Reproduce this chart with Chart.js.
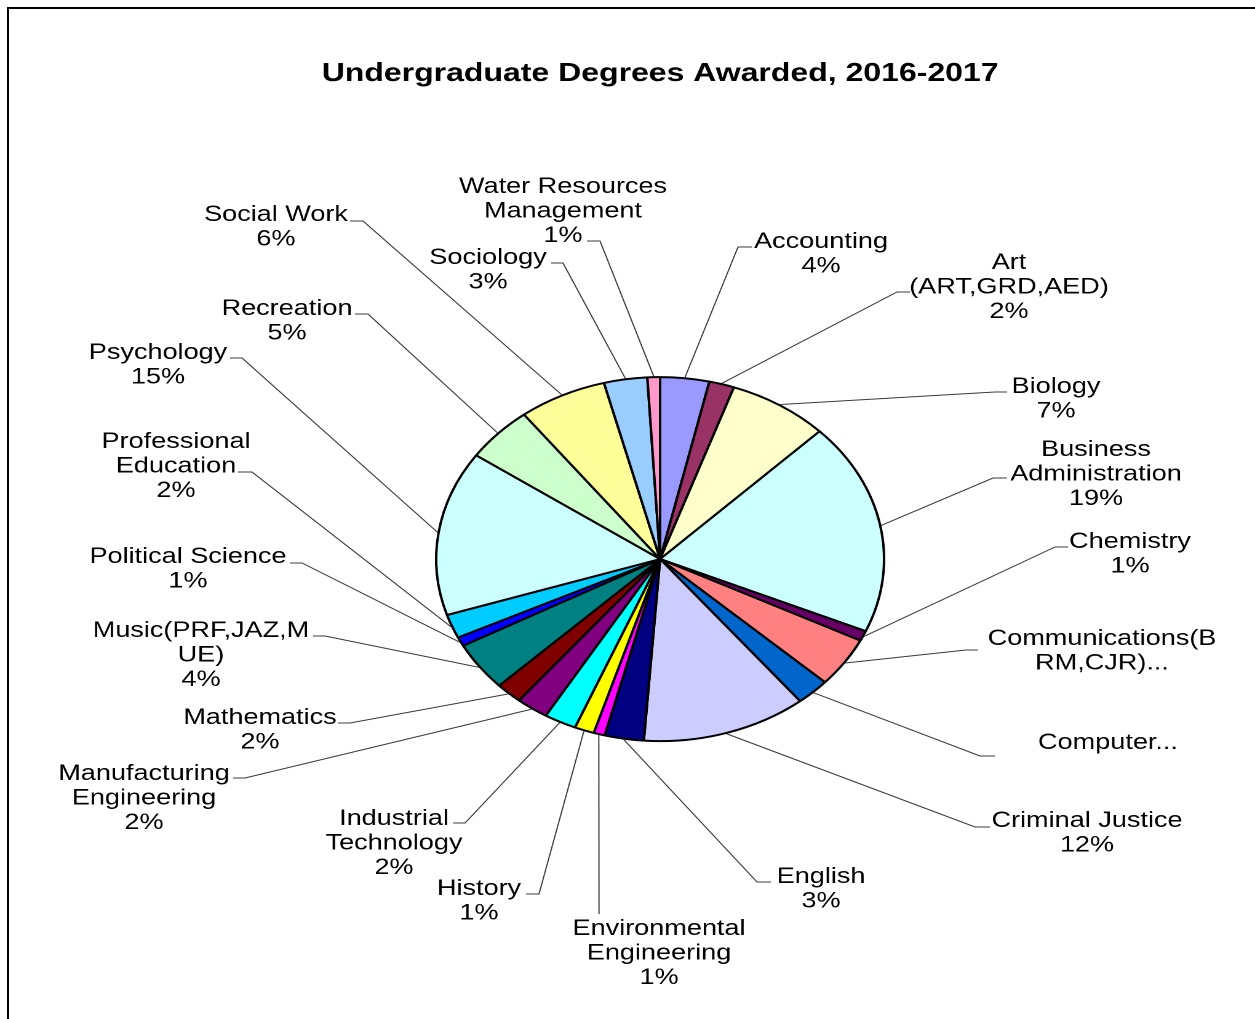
<!DOCTYPE html>
<html><head><meta charset="utf-8">
<script src="https://cdn.jsdelivr.net/npm/chart.js@4.4.1/dist/chart.umd.min.js"></script>
<style>
html,body{margin:0;padding:0;background:#fff;overflow:hidden;width:1255px;height:1019px;}
#stage{position:absolute;left:0;top:0;width:1020px;height:1019px;transform:scaleX(1.2304);transform-origin:0 0;}
#frame{position:absolute;left:7px;top:7px;width:1300px;height:1100px;border-left:2px solid #000;border-top:2px solid #000;pointer-events:none;}
</style></head><body>
<div id="stage"><canvas id="c" width="1020" height="1019"></canvas></div>
<div id="frame"></div>
<script>
// Categories (a "\n" marks where the reference wraps the label)
const categories = [
  'Accounting', 'Art\n(ART,GRD,AED)', 'Biology', 'Business\nAdministration', 'Chemistry',
  'Communications(B\nRM,CJR)...', 'Computer...', 'Criminal Justice', 'English',
  'Environmental\nEngineering', 'History', 'Industrial\nTechnology', 'Manufacturing\nEngineering',
  'Mathematics', 'Music(PRF,JAZ,M\nUE)', 'Political Science', 'Professional\nEducation',
  'Psychology', 'Recreation', 'Social Work', 'Sociology', 'Water Resources\nManagement'
];
// Degrees awarded
const degrees = [35, 18, 72, 187, 9, 44, 24, 118, 28, 8, 14, 23, 23, 19, 43, 8, 21, 145, 49, 63, 31, 9];

const sliceColors = ['#9999FF','#993366','#FFFFCC','#CCFFFF','#660066','#FF8080','#0066CC','#CCCCFF',
  '#000080','#FF00FF','#FFFF00','#00FFFF','#800080','#800000','#008080','#0000FF','#00CCFF',
  '#CCFFFF','#CCFFCC','#FFFF99','#99CCFF','#FF99CC'];

// Label placement: [text centre x, first line y, elbow x, elbow y, tick end x] (page pixels)
const labelLayout = [
  [821, 240, 738, 247, 752], [1009, 261, 897, 292, 910], [1056, 385, 995, 392, 1007],
  [1096, 448, 993, 478, 1007], [1130, 540, 1055, 547, 1068], [1102, 637, 966, 650, 978],
  [1108, 741, 980, 756, 995], [1087, 819, 975, 827, 990], [821, 875, 757, 882, 771],
  [659, 927, 599, 914, 599], [479, 887, 539, 894, 526], [394, 817, 465, 823, 453],
  [144, 772, 245, 778, 233], [260, 716, 350, 723, 338], [201, 629, 325, 636, 313],
  [188, 555, 302, 563, 290], [176, 440, 252, 472, 238], [158, 351, 242, 358, 230],
  [287, 307, 368, 314, 355], [276, 213, 363, 221, 350], [488, 256, 563, 263, 551],
  [563, 185, 600, 241, 587]
];

const STRETCH = 1255 / 1020;
const FONT = '"Liberation Sans", Arial, sans-serif';

const outsideLabels = {
  id: 'outsideLabels',
  afterDatasetsDraw(chart) {
    const ctx = chart.ctx;
    const meta = chart.getDatasetMeta(0);
    const total = degrees.reduce((a, b) => a + b, 0);
    ctx.save();
    ctx.strokeStyle = '#3a3a3a';
    ctx.lineWidth = 1;
    ctx.font = '22px ' + FONT;
    ctx.fillStyle = '#000';
    ctx.textAlign = 'center';
    ctx.textBaseline = 'middle';
    meta.data.forEach((arc, i) => {
      const p = arc.getProps(['x', 'y', 'startAngle', 'endAngle', 'outerRadius'], true);
      const mid = (p.startAngle + p.endAngle) / 2;
      const r = p.outerRadius + 1;
      const sx = p.x + Math.cos(mid) * r, sy = p.y + Math.sin(mid) * r;
      const [tx, ty, ex, ey, kx] = labelLayout[i];
      ctx.beginPath();
      ctx.moveTo(sx, sy);
      ctx.lineTo(ex / STRETCH, ey);
      ctx.lineTo(kx / STRETCH, ey);
      ctx.stroke();
      const lines = categories[i].split('\n');
      if (!categories[i].endsWith('...')) lines.push(Math.round(degrees[i] / total * 100) + '%');
      lines.forEach((t, j) => ctx.fillText(t, tx / STRETCH, ty + 2 + j * 24.5));
    });
    ctx.restore();
  }
};

new Chart(document.getElementById('c'), {
  type: 'pie',
  data: {
    labels: categories.map(c => c.replace('\n', ' ')),
    datasets: [{
      data: degrees,
      backgroundColor: sliceColors,
      borderColor: '#000',
      borderWidth: 2,
      radius: 182,
      hoverOffset: 0
    }]
  },
  options: {
    responsive: false,
    devicePixelRatio: 2,
    animation: false,
    events: [],
    layout: { padding: { left: 53, right: 0, top: 0, bottom: 0 } },
    plugins: {
      legend: { display: false },
      tooltip: { enabled: false },
      title: {
        display: true,
        text: 'Undergraduate Degrees Awarded, 2016-2017',
        color: '#000',
        font: { family: FONT, size: 26, weight: 'bold', lineHeight: 1.2 },
        padding: { top: 58, bottom: 10 }
      }
    }
  },
  plugins: [outsideLabels]
});
</script>
</body></html>
